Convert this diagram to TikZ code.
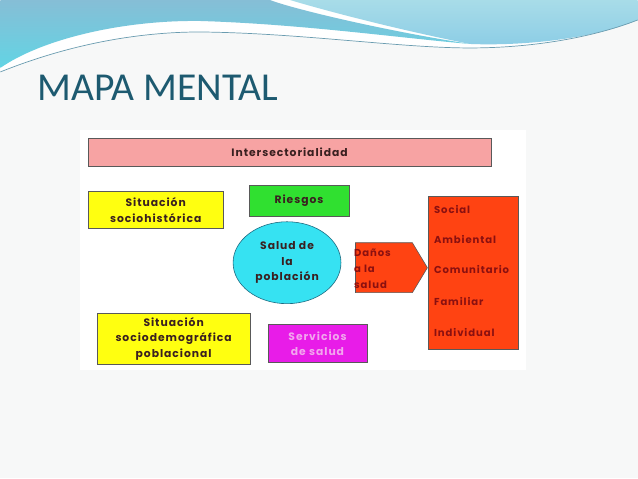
\documentclass[tikz,border=0pt]{standalone}
\usepackage{fontspec}
\setmainfont{Carlito}
\newfontfamily\mmComic{Poppins}[LetterSpace=9]
\usetikzlibrary{shapes.geometric,shapes.symbols}
\definecolor{mmTitle}{HTML}{1D5A70}
\definecolor{mmSlide}{HTML}{F7F8F8}
\definecolor{mmPink}{HTML}{F7A3A3}
\definecolor{mmYellow}{HTML}{FFFF10}
\definecolor{mmGreen}{HTML}{30E030}
\definecolor{mmCyan}{HTML}{36E2F2}
\definecolor{mmRed}{HTML}{FF4312}
\definecolor{mmMagenta}{HTML}{E81CE8}
\definecolor{mmInk}{HTML}{3A2020}
\definecolor{mmDarkRed}{HTML}{8A1010}
\definecolor{mmLightPink}{HTML}{F2A6EE}
\definecolor{mmWaveA}{HTML}{86BED6}
\definecolor{mmWaveB}{HTML}{62D4E4}
\definecolor{mmWaveC}{HTML}{A8DCE8}
\definecolor{mmWaveD}{HTML}{8CCDE6}
\definecolor{mmWaveLine}{HTML}{6A9CB0}
\definecolor{mmTeal}{HTML}{1E6A80}
\newcommand{\mmPx}{0.3mm}
\newcommand{\mmBoxFont}{\mmComic\bfseries\fontsize{9.2}{13.4}\selectfont}
\newcommand{\mmItemFont}{\mmComic\bfseries\fontsize{8.6}{13.6}\selectfont}

\begin{document}
\begin{tikzpicture}[x=0.3mm,y=-0.3mm,
  mmbox/.style={draw=black!65, line width=0.5pt, inner sep=0pt, align=center, font=\mmBoxFont, text=mmInk},
  mmsize/.style 2 args={minimum width=#1*\mmPx, minimum height=#2*\mmPx},
  mmitem/.style={anchor=base west, inner sep=0pt, font=\mmItemFont, text=mmDarkRed}]
% slide background and top wave
\fill[mmSlide] (0,0) rectangle (638,479);
\fill[white] (0,0) -- (638,0) -- (638,20) .. controls (600,35) and (540,48) .. (470,48)
  .. controls (400,48) and (300,33) .. (200,32) .. controls (150,32) and (80,40) .. (0,72) -- cycle;
\shade[top color=mmWaveC, bottom color=mmWaveD] (290,0) -- (638,0) -- (638,20)
  .. controls (590,40) and (520,46) .. (470,44) .. controls (400,30) and (330,12) .. (290,0) -- cycle;
\shade[top color=mmWaveA, bottom color=mmWaveB] (0,0) -- (270,0) .. controls (290,8) and (380,30) .. (470,44)
  .. controls (400,38) and (300,24) .. (200,21) .. controls (120,20) and (40,40) .. (0,68) -- cycle;
\draw[mmWaveLine, line width=0.6pt] (0,72) .. controls (80,40) and (150,32) .. (200,32)
  .. controls (300,33) and (400,48) .. (470,48) .. controls (540,48) and (600,35) .. (638,20);
\node[anchor=base west, inner sep=0pt, text=mmTitle, font=\fontsize{33.8}{38}\selectfont] (title) at (37,101) {MAPA MENTAL};
% mind map
\fill[white] (80,130) rectangle (526,370);
\node[mmbox, fill=mmPink, mmsize={403}{28}] (inter) at (289.5,152) {Intersectorialidad};
\node[mmbox, fill=mmYellow, mmsize={135}{38}] (historica) at (155.5,210) {Situación\\sociohistórica};
\node[mmbox, fill=mmGreen, mmsize={100}{32}] (riesgos) at (299,201) {\raisebox{1.2mm}{Riesgos}};
\node[mmbox, ellipse, fill=mmCyan, draw=mmTeal, mmsize={108}{82}] (salud) at (287,263) {Salud de\\la\\población};
\node[mmbox, signal, signal to=east, signal pointer angle=118, fill=mmRed, mmsize={72}{50}] (danos) at (384,268) {};
\node[anchor=west, inner sep=0pt, align=left, font=\mmItemFont, text=mmDarkRed] (danostexto) at (354,269) {Daños\\a la\\salud};
\node[mmbox, fill=mmRed, mmsize={91}{153}] (niveles) at (473.5,273.5) {};
\node[mmitem] (social) at (434,214) {Social};
\node[mmitem] (ambiental) at (434,244) {Ambiental};
\node[mmitem] (comunitario) at (434,274) {Comunitario};
\node[mmitem] (familiar) at (434,306) {Familiar};
\node[mmitem] (individual) at (434,337) {Individual};
\node[mmbox, fill=mmYellow, mmsize={153}{51}] (demografica) at (173.5,339) {Situación\\sociodemográfica\\poblacional};
\node[mmbox, fill=mmMagenta, text=mmLightPink, mmsize={99}{38}] (servicios) at (317.5,344) {Servicios\\de salud};
\end{tikzpicture}
\end{document}
